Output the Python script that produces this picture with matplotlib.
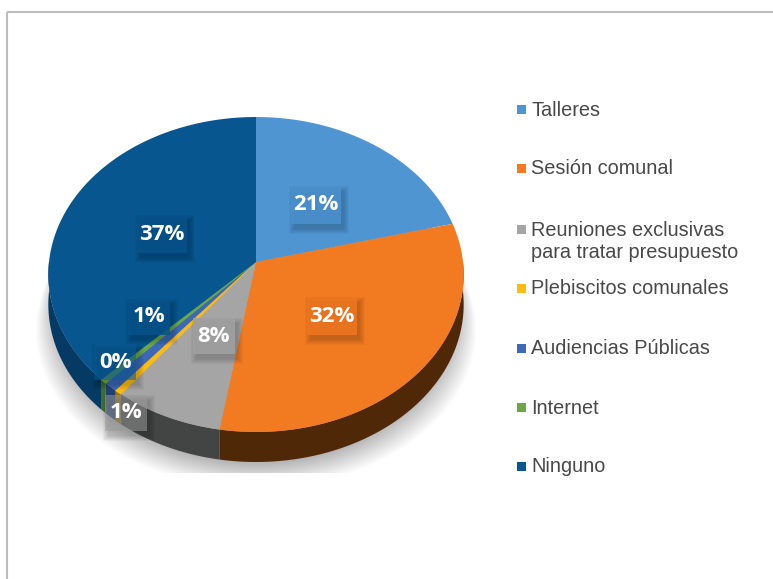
import numpy as np
import matplotlib
matplotlib.use('Agg')
import matplotlib.pyplot as plt
from matplotlib.patches import Rectangle

categories = ['Talleres', 'Sesión comunal', 'Reuniones exclusivas\npara tratar presupuesto',
              'Plebiscitos comunales', 'Audiencias Públicas', 'Internet', 'Ninguno']
values = [21.0, 31.6, 7.9, 0.5, 1.0, 0.45, 37.55]
pct_labels = ['21%', '32%', '8%', '1%', '0%', '1%', '37%']
colors = ['#4e95d2', '#f27a21', '#a5a5a5', '#fdbb12', '#3b69b8', '#6aa842', '#07568f']
wall_colors = ['#2a5275', '#4f2808', '#434545', '#9c7208', '#223f73', '#3f6e28', '#043a63']
box_colors = ['#4b90cc', '#ec761f', '#a0a0a0', '#9a9a9a', '#0b5a96', '#07528a', '#07528a']
box_alpha = [0.9, 0.9, 0.9, 0.55, 0.55, 0.85, 0.85]

# label centres and legend rows, in pixels of the picture
label_pos = [(316, 205), (332, 316), (214, 336), (126, 413), (115, 362), (149, 317), (162, 234)]
legend_y = [110, 169, 230, 289, 349, 408, 467]

cx, cy = 256, 262
rx, ry = 207, 156.5
k = 0.0794
depth = 30


def project(theta):
    # circle seen in perspective, theta clockwise from 12 o'clock
    u, v = np.sin(theta), np.cos(theta)
    d = 1 + k * v
    return cx + rx * u / d, cy - ry * v / d


fig = plt.figure(figsize=(7.73, 5.79), dpi=100)
ax = fig.add_axes([0, 0, 1, 1])
ax.set_xlim(0, 773)
ax.set_ylim(579, 0)
ax.axis('off')

# frame
ax.add_patch(Rectangle((7, 12), 800, 600, fc='none', ec='#bdbdbd', lw=1.5))

# soft shadow under the pie
t = np.linspace(0, 2 * np.pi, 200)
sx, sy = project(t)
clip = Rectangle((0, 0), 773, 473, transform=ax.transData)
for g in np.linspace(1.0, 0.0, 30):
    p = ax.fill(cx + (sx - cx) * (0.94 + 0.12 * g), sy + 26 + 30 * g, color='#000000', alpha=0.010, lw=0)[0]
    p.set_clip_path(clip)

edges = np.concatenate([[0], np.cumsum(values)]) / sum(values) * 2 * np.pi

# side walls, only the part facing us
for i in range(len(values)):
    a0, a1 = max(edges[i], np.pi / 2), min(edges[i + 1], 3 * np.pi / 2)
    if a1 <= a0:
        continue
    t = np.linspace(a0, a1, 80)
    x, y = project(t)
    ax.fill(np.r_[x, x[::-1]], np.r_[y, y[::-1] + depth], color=wall_colors[i], lw=0)

# top face
for i in range(len(values)):
    t = np.linspace(edges[i], edges[i + 1], 120)
    x, y = project(t)
    ax.fill(np.r_[cx, x], np.r_[cy, y], fc=colors[i], ec=colors[i], lw=0.6 if values[i] < 1 else 0)

# data labels with their shaded boxes
for i, (lx, ly) in enumerate(label_pos):
    w, h = (50, 38) if i in (0, 1, 6) else (42, 36)
    for grow in np.arange(5, -1, -1):
        ax.add_patch(Rectangle((lx - w / 2 + 3 - grow, ly - h / 2 + 5 - grow), w + 2 * grow, h + 2 * grow,
                               fc='black', ec='none', alpha=0.03))
    ax.add_patch(Rectangle((lx - w / 2, ly - h / 2), w, h, fc=box_colors[i], ec='none', alpha=box_alpha[i]))
    ax.text(lx, ly, pct_labels[i], color='white', fontsize=16, fontweight='bold', family='Open Sans',
            ha='center', va='center')

# legend
for name, c, y in zip(categories, colors, legend_y):
    ax.add_patch(Rectangle((517, y - 5.5), 9, 9, fc=c, ec='none'))
    rows = name.split('\n')
    ax.text(531, y, rows[0], color='#484848', fontsize=14.3, family='Liberation Sans', va='center')
    if len(rows) > 1:
        ax.text(531, y + 23, rows[1], color='#484848', fontsize=14.3, family='Liberation Sans', va='center')

fig.savefig('out.png', dpi=100)
